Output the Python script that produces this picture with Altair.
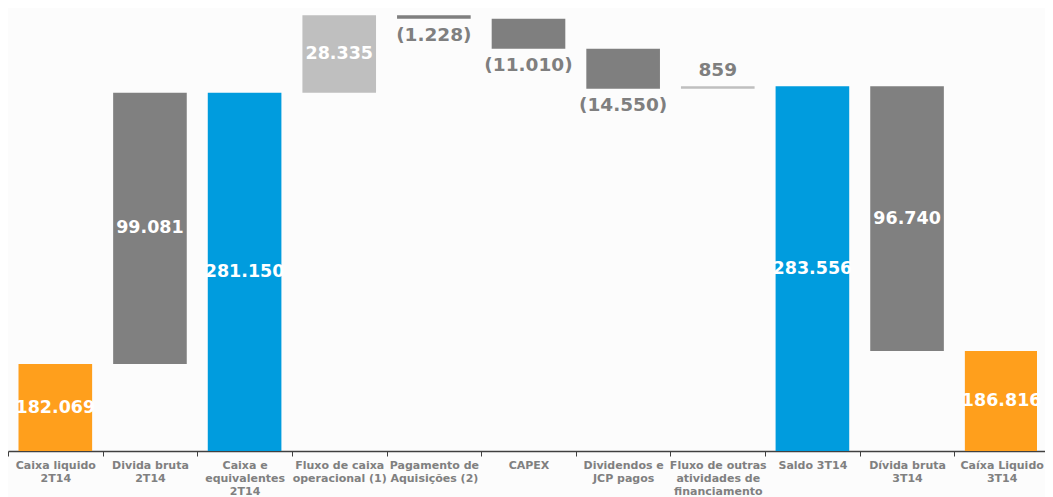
import altair as alt
import pandas as pd

categories = ["Caixa liquido|2T14", "Divida bruta|2T14", "Caixa e|equivalentes|2T14",
              "Fluxo de caixa|operacional (1)", "Pagamento de|Aquisições (2)", "CAPEX",
              "Dividendos e|JCP pagos", "Fluxo de outras|atividades de|financiamento",
              "Saldo 3T14", "Dívida bruta|3T14", "Caíxa Liquido|3T14"]
values = [182069, 99081, 281150, 28335, -1228, -11010, -14550, 859, 283556, -96740, 186816]
is_total = [True, False, True, False, False, False, False, False, True, False, True]
labels = ["182.069", "99.081", "281.150", "28.335", "(1.228)", "(11.010)", "(14.550)",
          "859", "283.556", "96.740", "186.816"]
kinds = ["liquido", "divida", "saldo", "entrada", "saida", "saida", "saida",
         "entrada", "saldo", "divida", "liquido"]
label_pos = ["inside", "inside", "inside", "inside", "below", "below", "below",
             "above", "inside", "inside", "inside"]

Y_MIN, Y_MAX = 150300, 312160

rows = []
running = 0
for i, c in enumerate(categories):
    v = values[i]
    if is_total[i]:
        start, end = 0, v
        running = v
    else:
        start, end = running, running + v
        running = end
    lo, hi = min(start, end), max(start, end)
    mid = (max(lo, Y_MIN) + hi) / 2
    rows.append(dict(cat=c, start=start, end=end, lo=lo, hi=hi, mid=mid,
                     label=labels[i], kind=kinds[i], pos=label_pos[i]))
df = pd.DataFrame(rows)

xscale = alt.Scale(paddingInner=0, paddingOuter=0, range=[0, 1041])
xenc = alt.X("cat:N", sort=categories, title=None, scale=xscale,
             axis=alt.Axis(labelAngle=0, labelExpr="split(datum.label, '|')",
                           labelFont="DejaVu Sans", labelFontSize=11, labelFontWeight="bold",
                           labelColor="#808080", labelLineHeight=13, labelPadding=3,
                           labelBaseline="top", tickBand="extent", tickSize=5,
                           tickColor="#404040", domainColor="#404040", domainWidth=1.5,
                           labelLimit=200))
xplain = alt.X("cat:N", sort=categories, scale=xscale)
yscale = alt.Scale(domain=[Y_MIN, Y_MAX], nice=False, zero=False)

base = alt.Chart(df)

bars = base.mark_bar(width={"band": 0.778}, clip=True).encode(
    x=xenc,
    y=alt.Y("lo:Q", scale=yscale, axis=None),
    y2="hi:Q",
    color=alt.Color("kind:N", legend=None,
                    scale=alt.Scale(domain=["liquido", "divida", "saldo", "entrada", "saida"],
                                    range=["#FF9F1C", "#808080", "#009CDE", "#BFBFBF", "#7F7F7F"])),
)

inside = base.transform_filter(alt.datum.pos == "inside").mark_text(
    font="DejaVu Sans", fontWeight="bold", fontSize=17.5, color="white", baseline="middle"
).encode(x=xplain, y=alt.Y("mid:Q", scale=yscale), text="label:N")

below = base.transform_filter(alt.datum.pos == "below").mark_text(
    font="DejaVu Sans", fontWeight="bold", fontSize=18.5, color="#7F7F7F", baseline="top", dy=7
).encode(x=xplain, y=alt.Y("lo:Q", scale=yscale), text="label:N")

above = base.transform_filter(alt.datum.pos == "above").mark_text(
    font="DejaVu Sans", fontWeight="bold", fontSize=18.5, color="#7F7F7F", baseline="bottom", dy=-6
).encode(x=xplain, y=alt.Y("hi:Q", scale=yscale), text="label:N")

chart = alt.layer(bars, inside, below, above).properties(
    width=1029, height=443,
    autosize=alt.AutoSizeParams(type="none"),
    padding={"left": 0, "top": 0, "right": 8, "bottom": 46},
    background="#fcfcfc",
).configure_view(stroke=None)

chart.save("out.html", embed_options={"renderer": "svg", "actions": False})
